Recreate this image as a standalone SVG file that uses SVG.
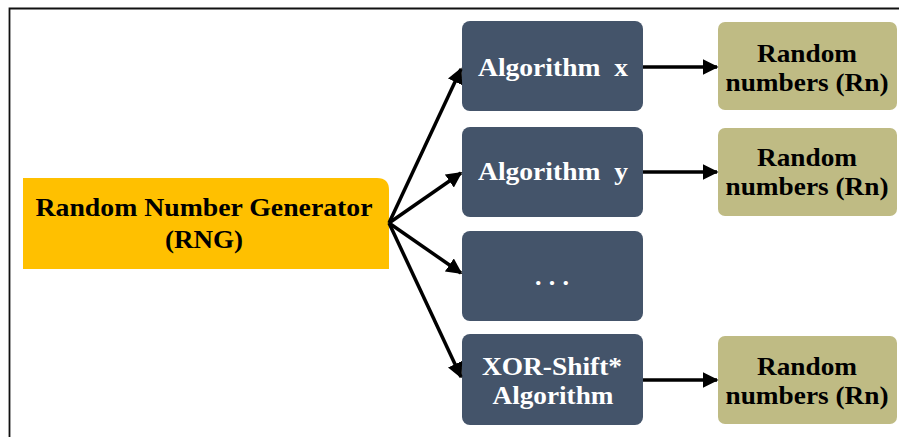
<svg xmlns="http://www.w3.org/2000/svg" width="899" height="437" viewBox="0 0 899 437">
  <style>
    text { font-family: "Liberation Serif", "Times New Roman", serif; font-weight: bold; font-size: 26px; text-anchor: middle; }
    .dark { fill: #ffffff; }
    .light { fill: #000000; }
    .alg { fill: #44546a; }
    .out { fill: #bfbb84; }
    .conn { stroke: #000000; stroke-width: 3.5; fill: none; marker-end: url(#arrow); }
  </style>
  <defs>
    <marker id="arrow" viewBox="0 0 10 10" refX="9" refY="5" markerWidth="4.5" markerHeight="4.5" orient="auto" markerUnits="strokeWidth">
      <path d="M0,0 L10,5 L0,10 Z" fill="#000000"/>
    </marker>
  </defs>
  <rect width="899" height="437" fill="#ffffff"/>
  <!-- frame -->
  <path d="M9.5,437 V8.5 H899" stroke="#111111" stroke-width="1.8" fill="none"/>

  <g id="rng">
    <path d="M23,178 H377 Q389,178 389,190 V269 H23 Z" fill="#ffc000"/>
    <text class="light" x="204" y="216" textLength="337" lengthAdjust="spacingAndGlyphs">Random Number Generator</text>
    <text class="light" x="204" y="248" textLength="78" lengthAdjust="spacingAndGlyphs">(RNG)</text>
  </g>

  <g id="alg-x">
    <rect class="alg" x="462" y="21" width="181" height="90" rx="8"/>
    <text class="dark" x="553" y="76" textLength="150" lengthAdjust="spacingAndGlyphs" xml:space="preserve">Algorithm  x</text>
  </g>
  <g id="alg-y">
    <rect class="alg" x="462" y="127" width="181" height="90" rx="8"/>
    <text class="dark" x="553" y="180" textLength="150" lengthAdjust="spacingAndGlyphs" xml:space="preserve">Algorithm  y</text>
  </g>
  <g id="alg-more">
    <rect class="alg" x="462" y="231" width="181" height="90" rx="8"/>
    <text class="dark" x="552" y="285" textLength="34" lengthAdjust="spacing">. . .</text>
  </g>
  <g id="alg-xorshift">
    <rect class="alg" x="462" y="334" width="181" height="91" rx="8"/>
    <text class="dark" x="552" y="375" textLength="140" lengthAdjust="spacingAndGlyphs">XOR-Shift*</text>
    <text class="dark" x="553" y="404" textLength="121" lengthAdjust="spacingAndGlyphs">Algorithm</text>
  </g>

  <g id="rn-1">
    <rect class="out" x="718" y="22" width="179" height="88" rx="7"/>
    <text class="light" x="807" y="62" textLength="100" lengthAdjust="spacingAndGlyphs">Random</text>
    <text class="light" x="807" y="91" textLength="163" lengthAdjust="spacingAndGlyphs">numbers (Rn)</text>
  </g>
  <g id="rn-2">
    <rect class="out" x="718" y="128" width="179" height="88" rx="7"/>
    <text class="light" x="807" y="166" textLength="100" lengthAdjust="spacingAndGlyphs">Random</text>
    <text class="light" x="807" y="195" textLength="163" lengthAdjust="spacingAndGlyphs">numbers (Rn)</text>
  </g>
  <g id="rn-3">
    <rect class="out" x="718" y="336" width="179" height="88" rx="7"/>
    <text class="light" x="807" y="375" textLength="100" lengthAdjust="spacingAndGlyphs">Random</text>
    <text class="light" x="807" y="404" textLength="163" lengthAdjust="spacingAndGlyphs">numbers (Rn)</text>
  </g>

  <g id="connectors">
    <line class="conn" x1="389" y1="223" x2="461" y2="69"/>
    <line class="conn" x1="389" y1="223" x2="461" y2="173"/>
    <line class="conn" x1="389" y1="223" x2="461" y2="273"/>
    <line class="conn" x1="389" y1="223" x2="461" y2="377"/>
    <line class="conn" x1="643" y1="67" x2="717" y2="67"/>
    <line class="conn" x1="643" y1="172" x2="717" y2="172"/>
    <line class="conn" x1="643" y1="380" x2="717" y2="380"/>
  </g>
</svg>
